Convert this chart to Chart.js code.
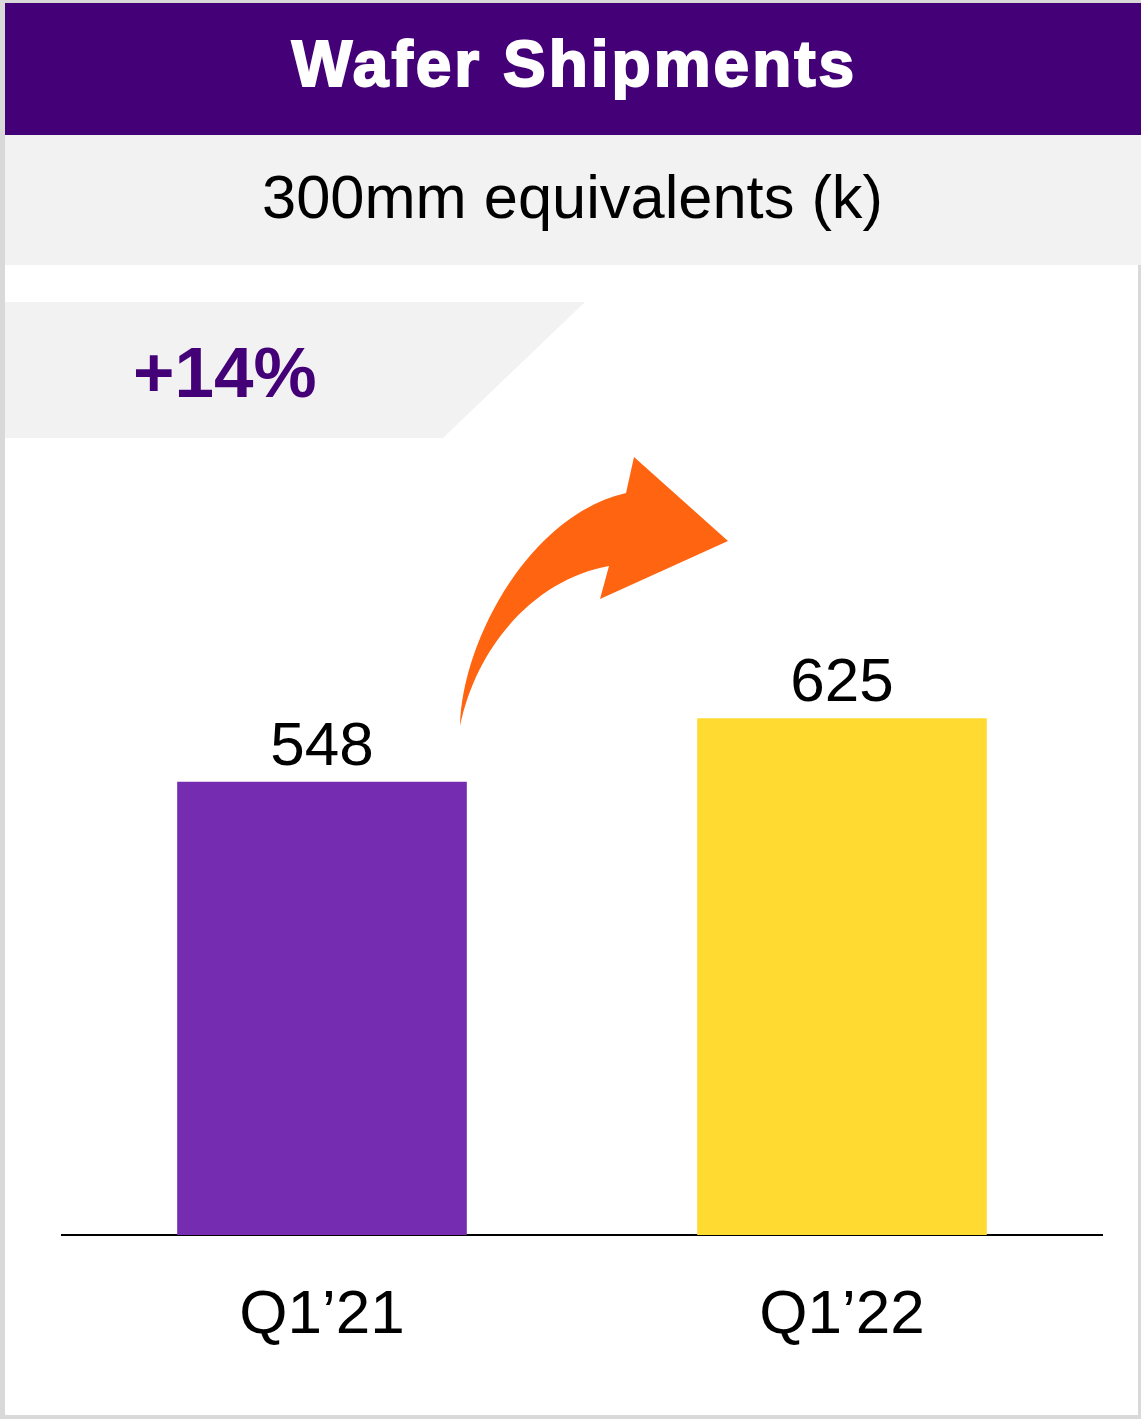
<!DOCTYPE html>
<html>
<head>
<meta charset="utf-8">
<title>Wafer Shipments</title>
<script src="https://cdn.jsdelivr.net/npm/chart.js@4.4.1/dist/chart.umd.min.js"></script>
<style>
  html, body { margin: 0; padding: 0; }
  body {
    width: 1141px; height: 1419px; position: relative; overflow: hidden;
    background: #d9d9d9;
    font-family: 'Liberation Sans', Arial, sans-serif;
  }
  #panel { position: absolute; left: 5px; top: 3px; width: 1133px; height: 1412px; background: #fff; }
  #header { position: absolute; left: 5px; top: 3px; width: 1136px; height: 132px; background: #440077; }
  #subhead { position: absolute; left: 5px; top: 135px; width: 1136px; height: 130px; background: #f2f2f2; }
  .txt { position: absolute; left: 0; width: 1141px; text-align: center; line-height: 1; white-space: nowrap; }
  #title {
    left: 4px; top: 32px; font-size: 64px; font-weight: bold; color: #fff;
    letter-spacing: 3px; -webkit-text-stroke: 2px #fff;
  }
  #subtitle { left: 2px; top: 166px; font-size: 61.4px; color: #000; }
  #growth {
    position: absolute; left: 5px; top: 302px; width: 580px; height: 136px; background: #f2f2f2;
    clip-path: polygon(0 0, 580px 0, 438px 136px, 0 136px);
  }
  #growth span {
    position: absolute; left: 128px; top: 35px; font-size: 71px; font-weight: bold; color: #440077; line-height: 1;
  }
  #arrow { position: absolute; left: 0; top: 0; }
  #chartWrap { position: absolute; left: 0; top: 265px; width: 1141px; height: 1150px; }
</style>
</head>
<body>
<div id="panel"></div>
<div id="header"></div>
<div id="subhead"></div>
<div class="txt" id="title">Wafer Shipments</div>
<div class="txt" id="subtitle">300mm equivalents (k)</div>
<div id="growth"><span>+14%</span></div>
<div id="chartWrap"><canvas id="chart" width="1141" height="1150"></canvas></div>
<svg id="arrow" width="1141" height="1419">
  <path d="M460,726 C462,640 530,515 626,493 L634,457 L728,541 L600,599 L609,566 C540,578 478,640 460,726 Z" fill="#ff6410"/>
</svg>
<script>
const quarters = ['Q1\u201921', 'Q1\u201922'];
const shipments = [548, 625];
const barColors = ['#752cb0', '#ffda30'];

const FONT = "'Liberation Sans', Arial, sans-serif";

// value printed above each bar
const valueLabels = {
  id: 'valueLabels',
  afterDatasetsDraw(chart) {
    const ctx = chart.ctx;
    const meta = chart.getDatasetMeta(0);
    ctx.save();
    ctx.font = '62px ' + FONT;
    ctx.fillStyle = '#000';
    ctx.textAlign = 'center';
    ctx.textBaseline = 'alphabetic';
    meta.data.forEach((bar, i) => {
      ctx.fillText(String(shipments[i]), bar.x, bar.y - 17);
    });
    ctx.restore();
  }
};

new Chart(document.getElementById('chart'), {
  type: 'bar',
  data: {
    labels: quarters,
    datasets: [{
      data: shipments,
      backgroundColor: barColors,
      borderWidth: 0,
      barPercentage: 0.557,
      categoryPercentage: 1
    }]
  },
  options: {
    responsive: false,
    animation: false,
    devicePixelRatio: 1,
    layout: { padding: { top: 143, left: 62, right: 39, bottom: 0 } },
    plugins: { legend: { display: false }, tooltip: { enabled: false } },
    scales: {
      x: {
        grid: { display: false },
        border: { display: true, color: '#000', width: 2 },
        ticks: { color: '#000', padding: 36, font: { family: FONT, size: 62, lineHeight: 1.2 } },
        afterFit(axis) { axis.height = 180; }
      },
      y: { display: false, min: 0, max: 1000 }
    }
  },
  plugins: [valueLabels]
});
</script>
</body>
</html>
